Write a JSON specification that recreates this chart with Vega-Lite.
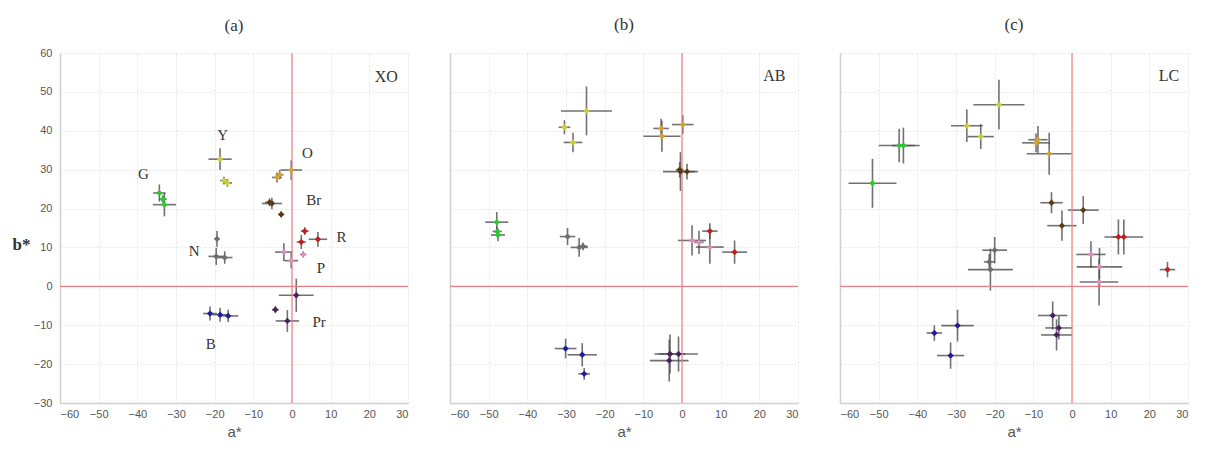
{
  "$schema": "https://vega.github.io/schema/vega-lite/v6.json",
  "background": "white",
  "padding": {"left": 12, "top": 16, "right": 0, "bottom": 0},
  "spacing": 42,
  "bounds": "flush",
  "config": {
    "view": {"stroke": null},
    "axis": {
      "domainColor": "#d0d0d0", "domainWidth": 1.5,
      "gridColor": "#e6e6e6", "gridDash": [2, 2],
      "ticks": false, "labelPadding": 5, "labelOverlap": false,
      "labelFont": "Liberation Sans", "labelFontSize": 11, "labelColor": "#555",
      "titleFont": "Liberation Sans", "titleFontSize": 15, "titleFontWeight": "normal", "titleColor": "#555"
    },
    "title": {"font": "Liberation Serif", "fontSize": 17, "fontWeight": "normal", "color": "#333", "offset": 18}
  },
  "datasets": {
    "pts": [
      {"p":"a","g":"Y","a":-18.6,"b":32.7,"a0":-21.6,"a1":-15.6,"b0":29.9,"b1":35.5},
      {"p":"a","g":"Y","a":-17.6,"b":27.2,"a0":-18.6,"a1":-16.6,"b0":26.2,"b1":28.2},
      {"p":"a","g":"Y","a":-16.7,"b":26.6,"a0":-17.9,"a1":-15.5,"b0":25.6,"b1":27.6},
      {"p":"a","g":"O","a":-0.2,"b":29.9,"a0":-3.0,"a1":2.6,"b0":27.4,"b1":32.4},
      {"p":"a","g":"O","a":-3.9,"b":28.0,"a0":-5.2,"a1":-2.6,"b0":26.7,"b1":29.3},
      {"p":"a","g":"O","a":-3.2,"b":28.7,"a0":-4.2,"a1":-2.2,"b0":27.5,"b1":29.9},
      {"p":"a","g":"Br","a":-5.2,"b":21.3,"a0":-7.8,"a1":-2.6,"b0":19.8,"b1":22.8},
      {"p":"a","g":"Br","a":-5.8,"b":21.6,"a0":-7.0,"a1":-4.6,"b0":20.6,"b1":22.6},
      {"p":"a","g":"Br","a":-2.8,"b":18.5,"a0":-3.6,"a1":-2.0,"b0":17.7,"b1":19.3},
      {"p":"a","g":"R","a":3.3,"b":14.2,"a0":2.3,"a1":4.3,"b0":13.2,"b1":15.2},
      {"p":"a","g":"R","a":2.4,"b":11.4,"a0":1.2,"a1":3.6,"b0":9.6,"b1":13.2},
      {"p":"a","g":"R","a":6.7,"b":12.1,"a0":4.3,"a1":9.1,"b0":10.2,"b1":14.0},
      {"p":"a","g":"P","a":-2.1,"b":8.8,"a0":-4.4,"a1":0.2,"b0":6.5,"b1":11.1},
      {"p":"a","g":"P","a":-0.2,"b":6.6,"a0":-2.0,"a1":1.6,"b0":4.6,"b1":8.6},
      {"p":"a","g":"P","a":2.9,"b":8.2,"a0":2.1,"a1":3.7,"b0":7.4,"b1":9.0},
      {"p":"a","g":"N","a":-19.4,"b":12.2,"a0":-20.0,"a1":-18.8,"b0":10.2,"b1":14.2},
      {"p":"a","g":"N","a":-19.6,"b":7.7,"a0":-21.6,"a1":-17.6,"b0":5.5,"b1":9.9},
      {"p":"a","g":"N","a":-17.4,"b":7.4,"a0":-19.4,"a1":-15.4,"b0":5.8,"b1":9.0},
      {"p":"a","g":"B","a":-21.2,"b":-7.0,"a0":-23.0,"a1":-19.4,"b0":-8.8,"b1":-5.2},
      {"p":"a","g":"B","a":-18.6,"b":-7.3,"a0":-20.6,"a1":-16.6,"b0":-9.1,"b1":-5.5},
      {"p":"a","g":"B","a":-16.5,"b":-7.6,"a0":-19.1,"a1":-13.9,"b0":-9.2,"b1":-6.0},
      {"p":"a","g":"Pr","a":1.1,"b":-2.3,"a0":-3.4,"a1":5.6,"b0":-6.6,"b1":2.0},
      {"p":"a","g":"Pr","a":-4.3,"b":-6.0,"a0":-5.2,"a1":-3.4,"b0":-6.9,"b1":-5.1},
      {"p":"a","g":"Pr","a":-1.2,"b":-8.9,"a0":-4.2,"a1":1.8,"b0":-11.7,"b1":-6.1},
      {"p":"a","g":"G","a":-34.3,"b":24.0,"a0":-35.9,"a1":-32.7,"b0":21.8,"b1":26.2},
      {"p":"a","g":"G","a":-33.4,"b":22.4,"a0":-34.4,"a1":-32.4,"b0":21.4,"b1":23.4},
      {"p":"a","g":"G","a":-33.0,"b":21.0,"a0":-36.0,"a1":-30.0,"b0":18.0,"b1":24.0},

      {"p":"b","g":"Y","a":-24.7,"b":45.1,"a0":-31.3,"a1":-18.1,"b0":38.8,"b1":51.4},
      {"p":"b","g":"Y","a":-30.4,"b":40.9,"a0":-31.9,"a1":-28.9,"b0":39.1,"b1":42.7},
      {"p":"b","g":"Y","a":-28.2,"b":37.0,"a0":-30.6,"a1":-25.8,"b0":34.5,"b1":39.5},
      {"p":"b","g":"O","a":-5.4,"b":40.6,"a0":-7.4,"a1":-3.4,"b0":38.1,"b1":43.1},
      {"p":"b","g":"O","a":-5.2,"b":38.6,"a0":-10.0,"a1":-0.4,"b0":34.6,"b1":42.6},
      {"p":"b","g":"O","a":0.2,"b":41.6,"a0":-2.6,"a1":3.0,"b0":39.2,"b1":44.0},
      {"p":"b","g":"Br","a":-0.4,"b":29.5,"a0":-4.9,"a1":4.1,"b0":24.5,"b1":34.5},
      {"p":"b","g":"Br","a":1.3,"b":29.5,"a0":-0.7,"a1":3.3,"b0":27.5,"b1":31.5},
      {"p":"b","g":"Br","a":-0.6,"b":30.0,"a0":-1.6,"a1":0.4,"b0":28.0,"b1":32.0},
      {"p":"b","g":"G","a":-47.9,"b":16.5,"a0":-50.9,"a1":-44.9,"b0":13.9,"b1":19.1},
      {"p":"b","g":"G","a":-47.8,"b":14.1,"a0":-49.0,"a1":-46.6,"b0":12.9,"b1":15.3},
      {"p":"b","g":"G","a":-47.6,"b":13.2,"a0":-49.4,"a1":-45.8,"b0":11.6,"b1":14.8},
      {"p":"b","g":"N","a":-29.6,"b":12.8,"a0":-31.6,"a1":-27.6,"b0":10.6,"b1":15.0},
      {"p":"b","g":"N","a":-26.6,"b":10.0,"a0":-28.8,"a1":-24.4,"b0":7.6,"b1":12.4},
      {"p":"b","g":"N","a":-25.6,"b":10.3,"a0":-26.8,"a1":-24.4,"b0":9.3,"b1":11.3},
      {"p":"b","g":"R","a":7.2,"b":14.2,"a0":5.2,"a1":9.2,"b0":12.2,"b1":16.2},
      {"p":"b","g":"R","a":13.6,"b":8.8,"a0":10.4,"a1":16.8,"b0":5.8,"b1":11.8},
      {"p":"b","g":"P","a":2.6,"b":11.8,"a0":-1.0,"a1":6.2,"b0":7.9,"b1":15.7},
      {"p":"b","g":"P","a":4.4,"b":11.3,"a0":3.2,"a1":5.6,"b0":8.3,"b1":14.3},
      {"p":"b","g":"P","a":7.2,"b":10.1,"a0":3.6,"a1":10.8,"b0":5.8,"b1":14.4},
      {"p":"b","g":"B","a":-30.1,"b":-16.0,"a0":-32.9,"a1":-27.3,"b0":-18.5,"b1":-13.5},
      {"p":"b","g":"B","a":-25.8,"b":-17.6,"a0":-29.6,"a1":-22.0,"b0":-20.6,"b1":-14.6},
      {"p":"b","g":"B","a":-25.3,"b":-22.5,"a0":-26.8,"a1":-23.8,"b0":-24.0,"b1":-21.0},
      {"p":"b","g":"Pr","a":-3.1,"b":-17.4,"a0":-7.1,"a1":0.9,"b0":-22.4,"b1":-12.4},
      {"p":"b","g":"Pr","a":-0.9,"b":-17.4,"a0":-5.9,"a1":4.1,"b0":-21.9,"b1":-12.9},
      {"p":"b","g":"Pr","a":-3.3,"b":-19.1,"a0":-8.3,"a1":1.7,"b0":-24.5,"b1":-13.7},

      {"p":"c","g":"G","a":-51.6,"b":26.5,"a0":-57.8,"a1":-45.4,"b0":20.2,"b1":32.8},
      {"p":"c","g":"G","a":-44.7,"b":36.2,"a0":-50.0,"a1":-39.4,"b0":31.9,"b1":40.5},
      {"p":"c","g":"G","a":-43.6,"b":36.2,"a0":-46.6,"a1":-40.6,"b0":31.6,"b1":40.8},
      {"p":"c","g":"Y","a":-18.9,"b":46.7,"a0":-25.5,"a1":-12.3,"b0":40.3,"b1":53.1},
      {"p":"c","g":"Y","a":-27.2,"b":41.3,"a0":-31.3,"a1":-23.1,"b0":37.1,"b1":45.5},
      {"p":"c","g":"Y","a":-23.6,"b":38.5,"a0":-27.0,"a1":-20.2,"b0":35.3,"b1":41.7},
      {"p":"c","g":"O","a":-8.8,"b":37.7,"a0":-11.3,"a1":-6.3,"b0":34.2,"b1":41.2},
      {"p":"c","g":"O","a":-9.3,"b":36.9,"a0":-12.9,"a1":-5.7,"b0":34.5,"b1":39.3},
      {"p":"c","g":"O","a":-5.9,"b":34.1,"a0":-11.7,"a1":-0.1,"b0":28.7,"b1":39.5},
      {"p":"c","g":"Br","a":-5.3,"b":21.5,"a0":-8.2,"a1":-2.4,"b0":18.8,"b1":24.2},
      {"p":"c","g":"Br","a":2.9,"b":19.6,"a0":-1.1,"a1":6.9,"b0":16.0,"b1":23.2},
      {"p":"c","g":"Br","a":-2.6,"b":15.6,"a0":-6.4,"a1":1.2,"b0":11.7,"b1":19.5},
      {"p":"c","g":"N","a":-20.0,"b":9.3,"a0":-23.2,"a1":-16.8,"b0":5.9,"b1":12.7},
      {"p":"c","g":"N","a":-21.4,"b":6.3,"a0":-22.8,"a1":-20.0,"b0":4.3,"b1":8.3},
      {"p":"c","g":"N","a":-21.1,"b":4.3,"a0":-26.9,"a1":-15.3,"b0":-1.1,"b1":9.7},
      {"p":"c","g":"R","a":13.4,"b":12.7,"a0":8.4,"a1":18.4,"b0":8.2,"b1":17.2},
      {"p":"c","g":"R","a":12.0,"b":12.7,"a0":10.5,"a1":13.5,"b0":8.2,"b1":17.2},
      {"p":"c","g":"R","a":24.7,"b":4.3,"a0":22.7,"a1":26.7,"b0":2.3,"b1":6.3},
      {"p":"c","g":"P","a":4.9,"b":8.2,"a0":1.1,"a1":8.7,"b0":4.8,"b1":11.6},
      {"p":"c","g":"P","a":7.1,"b":5.0,"a0":1.2,"a1":13.0,"b0":0.1,"b1":9.9},
      {"p":"c","g":"P","a":7.0,"b":1.1,"a0":2.0,"a1":12.0,"b0":-4.9,"b1":7.1},
      {"p":"c","g":"B","a":-35.6,"b":-12.0,"a0":-37.6,"a1":-33.6,"b0":-14.0,"b1":-10.0},
      {"p":"c","g":"B","a":-29.6,"b":-10.1,"a0":-33.8,"a1":-25.4,"b0":-14.2,"b1":-6.0},
      {"p":"c","g":"B","a":-31.4,"b":-17.8,"a0":-34.9,"a1":-27.9,"b0":-21.2,"b1":-14.4},
      {"p":"c","g":"Pr","a":-5.0,"b":-7.5,"a0":-8.8,"a1":-1.2,"b0":-11.1,"b1":-3.9},
      {"p":"c","g":"Pr","a":-3.4,"b":-10.7,"a0":-6.9,"a1":0.1,"b0":-13.7,"b1":-7.7},
      {"p":"c","g":"Pr","a":-4.0,"b":-12.5,"a0":-8.0,"a1":0.0,"b0":-16.5,"b1":-8.5}
    ],
    "labels": [
      {"p":"a","t":"Y","a":-17.9,"b":39.0,"s":15},
      {"p":"a","t":"O","a":4.0,"b":34.2,"s":15},
      {"p":"a","t":"G","a":-38.4,"b":29.0,"s":15},
      {"p":"a","t":"Br","a":5.6,"b":22.2,"s":15},
      {"p":"a","t":"R","a":12.8,"b":12.6,"s":15},
      {"p":"a","t":"N","a":-25.3,"b":9.1,"s":15},
      {"p":"a","t":"P","a":7.5,"b":4.6,"s":15},
      {"p":"a","t":"B","a":-21.0,"b":-14.8,"s":15},
      {"p":"a","t":"Pr","a":7.0,"b":-9.2,"s":15},
      {"p":"a","t":"XO","a":24.4,"b":53.8,"s":16},
      {"p":"b","t":"AB","a":23.9,"b":54.2,"s":16},
      {"p":"c","t":"LC","a":25.1,"b":54.2,"s":16}
    ]
  },
  "hconcat": [
    {
      "width": 348, "height": 350,
      "title": {"text": "(a)", "offset": 12},
      "layer": [
        {"data": {"name": "pts"}, "transform": [{"filter": "datum.p === 'a'"}],
         "mark": {"type": "rule", "color": "#4d4d4d", "strokeWidth": 1.6, "opacity": 0.8},
         "encoding": {
           "x": {"field": "a0", "type": "quantitative", "scale": {"domain": [-60, 30], "nice": false},
                 "axis": {"values": [-60,-50,-40,-30,-20,-10,0,10,20,30], "tickCount": 10, "labelOverlap": false, "labelSeparation": 0, "title": "a*", "titlePadding": 5}},
           "x2": {"field": "a1"},
           "y": {"field": "b", "type": "quantitative", "scale": {"domain": [-30, 60], "nice": false},
                 "axis": {"values": [-30,-20,-10,0,10,20,30,40,50,60], "tickCount": 10, "labelOverlap": false, "labelSeparation": 0, "title": "b*", "titleAngle": 0,
                          "titleFont": "Liberation Serif", "titleFontSize": 17, "titleFontWeight": "bold", "titleColor": "#333",
                          "titleX": -39, "titleY": 191, "titleAlign": "center", "titleBaseline": "middle", "labelPadding": 8}}
         }},
        {"data": {"name": "pts"}, "transform": [{"filter": "datum.p === 'a'"}],
         "mark": {"type": "rule", "color": "#4d4d4d", "strokeWidth": 1.6, "opacity": 0.8},
         "encoding": {"x": {"field": "a", "type": "quantitative"}, "y": {"field": "b0", "type": "quantitative"}, "y2": {"field": "b1"}}},
        {"data": {"values": [{}]}, "mark": {"type": "rule", "color": "#f07c84", "strokeWidth": 1.2}, "encoding": {"x": {"datum": 0, "type": "quantitative"}}},
        {"data": {"values": [{}]}, "mark": {"type": "rule", "color": "#f07c84", "strokeWidth": 1.2}, "encoding": {"y": {"datum": 0, "type": "quantitative"}}},
        {"data": {"name": "pts"}, "transform": [{"filter": "datum.p === 'a'"}],
         "mark": {"type": "point", "filled": true, "shape": "diamond", "size": 40, "opacity": 1},
         "encoding": {"x": {"field": "a", "type": "quantitative"}, "y": {"field": "b", "type": "quantitative"},
           "color": {"field": "g", "type": "nominal", "legend": null,
             "scale": {"domain": ["Y","O","Br","R","P","N","B","Pr","G"], "range": ["#c8cc3a","#d4a234","#5a3a14","#c41c24","#d890b8","#6e6e6e","#1e1e9e","#4a2060","#2ec82e"]}}}},
        {"data": {"name": "labels"}, "transform": [{"filter": "datum.p === 'a'"}],
         "mark": {"type": "text", "font": "Liberation Serif", "color": "#333", "align": "center", "baseline": "middle"},
         "encoding": {"x": {"field": "a", "type": "quantitative"}, "y": {"field": "b", "type": "quantitative"}, "text": {"field": "t"},
           "size": {"field": "s", "type": "quantitative", "scale": null}}}
      ]
    },
    {
      "width": 348, "height": 350,
      "title": "(b)",
      "layer": [
        {"data": {"name": "pts"}, "transform": [{"filter": "datum.p === 'b'"}],
         "mark": {"type": "rule", "color": "#4d4d4d", "strokeWidth": 1.6, "opacity": 0.8},
         "encoding": {
           "x": {"field": "a0", "type": "quantitative", "scale": {"domain": [-60, 30], "nice": false},
                 "axis": {"values": [-60,-50,-40,-30,-20,-10,0,10,20,30], "tickCount": 10, "labelOverlap": false, "labelSeparation": 0, "title": "a*", "titlePadding": 5}},
           "x2": {"field": "a1"},
           "y": {"field": "b", "type": "quantitative", "scale": {"domain": [-30, 60], "nice": false},
                 "axis": {"values": [-30,-20,-10,0,10,20,30,40,50,60], "tickCount": 10, "title": null, "labels": false}}
         }},
        {"data": {"name": "pts"}, "transform": [{"filter": "datum.p === 'b'"}],
         "mark": {"type": "rule", "color": "#4d4d4d", "strokeWidth": 1.6, "opacity": 0.8},
         "encoding": {"x": {"field": "a", "type": "quantitative"}, "y": {"field": "b0", "type": "quantitative"}, "y2": {"field": "b1"}}},
        {"data": {"values": [{}]}, "mark": {"type": "rule", "color": "#f07c84", "strokeWidth": 1.2}, "encoding": {"x": {"datum": 0, "type": "quantitative"}}},
        {"data": {"values": [{}]}, "mark": {"type": "rule", "color": "#f07c84", "strokeWidth": 1.2}, "encoding": {"y": {"datum": 0, "type": "quantitative"}}},
        {"data": {"name": "pts"}, "transform": [{"filter": "datum.p === 'b'"}],
         "mark": {"type": "point", "filled": true, "shape": "diamond", "size": 40, "opacity": 1},
         "encoding": {"x": {"field": "a", "type": "quantitative"}, "y": {"field": "b", "type": "quantitative"},
           "color": {"field": "g", "type": "nominal", "legend": null,
             "scale": {"domain": ["Y","O","Br","R","P","N","B","Pr","G"], "range": ["#c8cc3a","#d4a234","#5a3a14","#c41c24","#d890b8","#6e6e6e","#1e1e9e","#4a2060","#2ec82e"]}}}},
        {"data": {"name": "labels"}, "transform": [{"filter": "datum.p === 'b'"}],
         "mark": {"type": "text", "font": "Liberation Serif", "color": "#333", "align": "center", "baseline": "middle"},
         "encoding": {"x": {"field": "a", "type": "quantitative"}, "y": {"field": "b", "type": "quantitative"}, "text": {"field": "t"},
           "size": {"field": "s", "type": "quantitative", "scale": null}}}
      ]
    },
    {
      "width": 348, "height": 350,
      "title": "(c)",
      "layer": [
        {"data": {"name": "pts"}, "transform": [{"filter": "datum.p === 'c'"}],
         "mark": {"type": "rule", "color": "#4d4d4d", "strokeWidth": 1.6, "opacity": 0.8},
         "encoding": {
           "x": {"field": "a0", "type": "quantitative", "scale": {"domain": [-60, 30], "nice": false},
                 "axis": {"values": [-60,-50,-40,-30,-20,-10,0,10,20,30], "tickCount": 10, "labelOverlap": false, "labelSeparation": 0, "title": "a*", "titlePadding": 5}},
           "x2": {"field": "a1"},
           "y": {"field": "b", "type": "quantitative", "scale": {"domain": [-30, 60], "nice": false},
                 "axis": {"values": [-30,-20,-10,0,10,20,30,40,50,60], "tickCount": 10, "title": null, "labels": false}}
         }},
        {"data": {"name": "pts"}, "transform": [{"filter": "datum.p === 'c'"}],
         "mark": {"type": "rule", "color": "#4d4d4d", "strokeWidth": 1.6, "opacity": 0.8},
         "encoding": {"x": {"field": "a", "type": "quantitative"}, "y": {"field": "b0", "type": "quantitative"}, "y2": {"field": "b1"}}},
        {"data": {"values": [{}]}, "mark": {"type": "rule", "color": "#f07c84", "strokeWidth": 1.2}, "encoding": {"x": {"datum": 0, "type": "quantitative"}}},
        {"data": {"values": [{}]}, "mark": {"type": "rule", "color": "#f07c84", "strokeWidth": 1.2}, "encoding": {"y": {"datum": 0, "type": "quantitative"}}},
        {"data": {"name": "pts"}, "transform": [{"filter": "datum.p === 'c'"}],
         "mark": {"type": "point", "filled": true, "shape": "diamond", "size": 40, "opacity": 1},
         "encoding": {"x": {"field": "a", "type": "quantitative"}, "y": {"field": "b", "type": "quantitative"},
           "color": {"field": "g", "type": "nominal", "legend": null,
             "scale": {"domain": ["Y","O","Br","R","P","N","B","Pr","G"], "range": ["#c8cc3a","#d4a234","#5a3a14","#c41c24","#d890b8","#6e6e6e","#1e1e9e","#4a2060","#2ec82e"]}}}},
        {"data": {"name": "labels"}, "transform": [{"filter": "datum.p === 'c'"}],
         "mark": {"type": "text", "font": "Liberation Serif", "color": "#333", "align": "center", "baseline": "middle"},
         "encoding": {"x": {"field": "a", "type": "quantitative"}, "y": {"field": "b", "type": "quantitative"}, "text": {"field": "t"},
           "size": {"field": "s", "type": "quantitative", "scale": null}}}
      ]
    }
  ]
}
